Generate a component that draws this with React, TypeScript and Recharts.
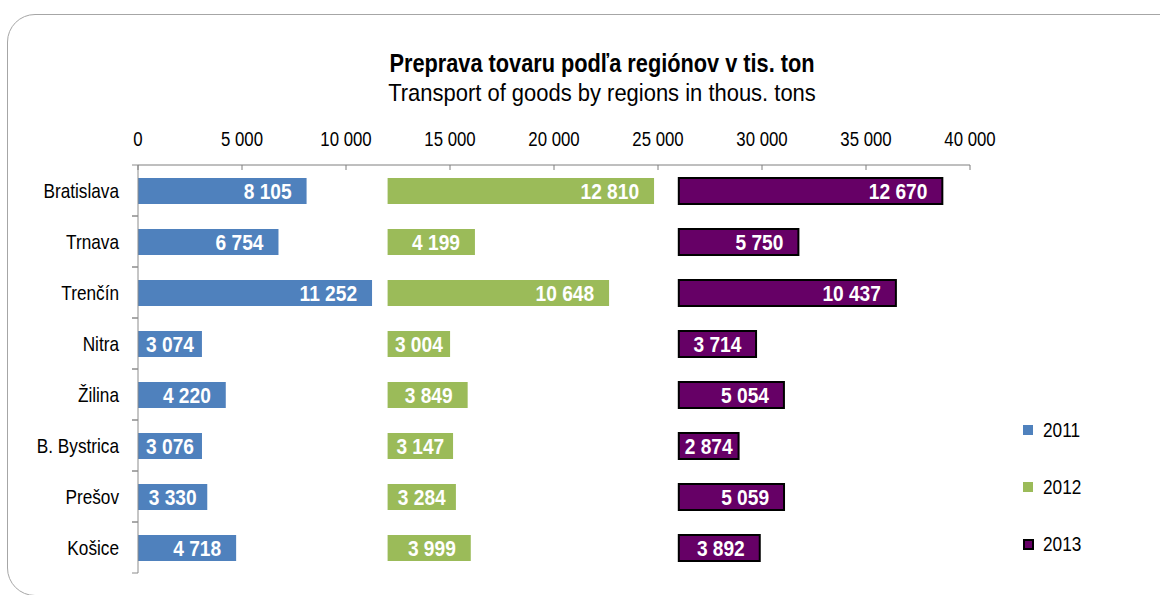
import { Bar, BarChart, LabelList, XAxis, YAxis } from "recharts";

const regions = ["Bratislava", "Trnava", "Trenčín", "Nitra", "Žilina", "B. Bystrica", "Prešov", "Košice"];
const y2011 = [8105, 6754, 11252, 3074, 4220, 3076, 3330, 4718];
const y2012 = [12810, 4199, 10648, 3004, 3849, 3147, 3284, 3999];
const y2013 = [12670, 5750, 10437, 3714, 5054, 2874, 5059, 3892];
const xTicks = [0, 5000, 10000, 15000, 20000, 25000, 30000, 35000, 40000];
const start2012 = 12000;
const start2013 = 26000;

const FONT = "'Liberation Sans', Arial, sans-serif";
const NARROW = 0.82; // no Arial Narrow installed, squeeze Arial instead
const BLUE = "#4F81BD";
const GREEN = "#9BBB59";
const PURPLE = "#660066";

const data = regions.map((region, i) => ({
  region,
  v2011: y2011[i],
  gap1: start2012 - y2011[i],
  v2012: y2012[i],
  gap2: start2013 - start2012 - y2012[i],
  v2013: y2013[i],
}));

const fmt = (n: number) => String(n).replace(/\B(?=(\d{3})+(?!\d))/g, " ");

const LABEL_SIZE = 21.5;
const LABEL_SCALE = 0.89;

const BarLabel = (props: any) => {
  const { x, y, width, height, value } = props;
  const txt = fmt(value);
  const digits = txt.replace(/ /g, "").length;
  const spaces = txt.length - digits;
  const tw = (digits * 0.556 + spaces * 0.278) * LABEL_SIZE * LABEL_SCALE;
  const pad = Math.min(15, Math.max(3, (width - tw) / 2));
  const tx = x + width - pad;
  return (
    <text
      transform={`translate(${tx},${y + height / 2}) scale(${LABEL_SCALE},1)`}
      dy="0.36em"
      textAnchor="end"
      fill="#fff"
      fontFamily={FONT}
      fontWeight="bold"
      fontSize={LABEL_SIZE}
    >
      {txt}
    </text>
  );
};

const XTick = (props: any) => {
  const { x, y, payload } = props;
  return (
    <g>
      <line x1={x} y1={y} x2={x} y2={y + 5} stroke="#7f7f7f" />
      <text
        transform={`translate(${x},${y - 19}) scale(${NARROW},1)`}
        textAnchor="middle"
        fontFamily={FONT}
        fontSize={20.5}
        fill="#000"
      >
        {fmt(payload.value)}
      </text>
    </g>
  );
};

const YTick = (props: any) => {
  const { x, y, payload } = props;
  const half = 25.5;
  return (
    <g>
      <line x1={x - 6} y1={y - half} x2={x} y2={y - half} stroke="#8c8c8c" />
      <line x1={x - 6} y1={y + half} x2={x} y2={y + half} stroke="#8c8c8c" />
      <text
        transform={`translate(${x - 19},${y}) scale(${NARROW},1)`}
        dy="0.36em"
        textAnchor="end"
        fontFamily={FONT}
        fontSize={21}
        fill="#000"
      >
        {payload.value}
      </text>
    </g>
  );
};

const legendItems = [
  { name: "2011", color: BLUE, border: false },
  { name: "2012", color: GREEN, border: false },
  { name: "2013", color: PURPLE, border: true },
];

export default function App() {
  return (
    <div style={{ position: "absolute", left: 0, top: 0, width: 1160, height: 595, overflow: "hidden", background: "#fff" }}>
      <div
        style={{
          position: "absolute",
          left: 7,
          top: 14,
          width: 1200,
          height: 580,
          border: "1.5px solid #a6a6a6",
          borderRadius: 28,
        }}
      />
      <svg width={1160} height={120} style={{ position: "absolute", left: 0, top: 0 }}>
        <text
          transform="translate(602,71.5) scale(0.87,1)"
          textAnchor="middle"
          fontFamily={FONT}
          fontWeight="bold"
          fontSize={25}
          fill="#000"
        >
          Preprava tovaru podľa regiónov v tis. ton
        </text>
        <text
          transform="translate(602,101) scale(0.915,1)"
          textAnchor="middle"
          fontFamily={FONT}
          fontSize={24}
          fill="#000"
        >
          Transport of goods by regions in thous. tons
        </text>
      </svg>
      <div style={{ position: "absolute", left: 0, top: 0 }}>
        <BarChart
          width={1160}
          height={595}
          data={data}
          layout="vertical"
          margin={{ top: 125, right: 190, bottom: 22, left: 0 }}
        >
          <XAxis
            type="number"
            orientation="top"
            domain={[0, 40000]}
            ticks={xTicks}
            height={40}
            tickSize={0}
            tickMargin={0}
            tickLine={false}
            axisLine={{ stroke: "#7f7f7f" }}
            tick={(p: any) => <XTick {...p} />}
            interval={0}
          />
          <YAxis
            type="category"
            dataKey="region"
            width={138}
            tickSize={0}
            tickMargin={0}
            tickLine={false}
            axisLine={{ stroke: "#8c8c8c" }}
            tick={(p: any) => <YTick {...p} />}
            interval={0}
          />
          <Bar dataKey="v2011" stackId="a" fill={BLUE} barSize={26} isAnimationActive={false}>
            <LabelList dataKey="v2011" content={(p: any) => <BarLabel {...p} />} />
          </Bar>
          <Bar dataKey="gap1" stackId="a" fill="transparent" barSize={26} isAnimationActive={false} />
          <Bar dataKey="v2012" stackId="a" fill={GREEN} barSize={26} isAnimationActive={false}>
            <LabelList dataKey="v2012" content={(p: any) => <BarLabel {...p} />} />
          </Bar>
          <Bar dataKey="gap2" stackId="a" fill="transparent" barSize={26} isAnimationActive={false} />
          <Bar
            dataKey="v2013"
            stackId="a"
            fill={PURPLE}
            stroke="#000"
            strokeWidth={2}
            barSize={26}
            isAnimationActive={false}
          >
            <LabelList dataKey="v2013" content={(p: any) => <BarLabel {...p} />} />
          </Bar>
        </BarChart>
      </div>
      {legendItems.map((it, i) => (
        <div
          key={it.name}
          style={{
            position: "absolute",
            left: 1023,
            top: 418 + i * 57,
            display: "flex",
            alignItems: "center",
            fontFamily: FONT,
            fontSize: 21,
            color: "#000",
          }}
        >
          <span
            style={{
              display: "inline-block",
              boxSizing: "border-box",
              width: it.border ? 11 : 10,
              height: it.border ? 11 : 10,
              background: it.color,
              border: it.border ? "2px solid #000" : "none",
              marginRight: it.border ? 9 : 10,
            }}
          />
          <span style={{ display: "inline-block", transform: `scaleX(${NARROW})`, transformOrigin: "left center" }}>
            {it.name}
          </span>
        </div>
      ))}
    </div>
  );
}
